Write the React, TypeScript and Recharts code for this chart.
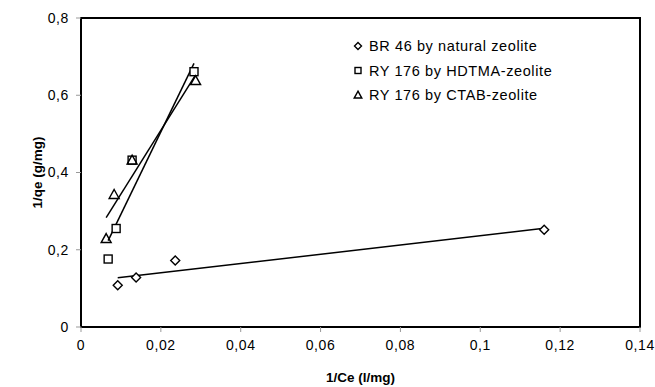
import {
  ScatterChart,
  Scatter,
  XAxis,
  YAxis,
  ReferenceArea,
} from "recharts";

// 1/Ce (l/mg) vs 1/qe (g/mg)
const brNaturalX = [0.0092, 0.0138, 0.0236, 0.116];
const brNaturalY = [0.108, 0.128, 0.172, 0.252];
const ryHdtmaX = [0.0068, 0.0088, 0.0128, 0.0283];
const ryHdtmaY = [0.176, 0.255, 0.432, 0.661];
const ryCtabX = [0.0063, 0.0083, 0.0128, 0.0287];
const ryCtabY = [0.229, 0.343, 0.432, 0.638];

const xTicks = [0, 0.02, 0.04, 0.06, 0.08, 0.1, 0.12, 0.14];
const yTicks = [0, 0.2, 0.4, 0.6, 0.8];

const FONT = "Liberation Sans, Arial, sans-serif";

type Pt = { x: number; y: number };

const toPoints = (xs: number[], ys: number[]): Pt[] =>
  xs.map((x, i) => ({ x, y: ys[i] }));

// least-squares trend line over the series' x range
function trend(pts: Pt[]): Pt[] {
  const n = pts.length;
  const mx = pts.reduce((s, p) => s + p.x, 0) / n;
  const my = pts.reduce((s, p) => s + p.y, 0) / n;
  let sxy = 0;
  let sxx = 0;
  pts.forEach((p) => {
    sxy += (p.x - mx) * (p.y - my);
    sxx += (p.x - mx) * (p.x - mx);
  });
  const b = sxy / sxx;
  const a = my - b * mx;
  const xs = pts.map((p) => p.x);
  const x0 = Math.min(...xs);
  const x1 = Math.max(...xs);
  return [
    { x: x0, y: a + b * x0 },
    { x: x1, y: a + b * x1 },
  ];
}

const brData = toPoints(brNaturalX, brNaturalY);
const hdtmaData = toPoints(ryHdtmaX, ryHdtmaY);
const ctabData = toPoints(ryCtabX, ryCtabY);

const comma = (v: number) => String(v).replace(".", ",");

// eslint-disable-next-line @typescript-eslint/no-explicit-any
const Diamond = (props: any) => {
  const { cx, cy, r = 4.5 } = props;
  return (
    <path
      d={`M${cx},${cy - r}L${cx + r},${cy}L${cx},${cy + r}L${cx - r},${cy}Z`}
      fill="#fff"
      stroke="#000"
      strokeWidth={1.4}
    />
  );
};

// eslint-disable-next-line @typescript-eslint/no-explicit-any
const Square = (props: any) => {
  const { cx, cy, r = 4 } = props;
  return (
    <rect
      x={cx - r}
      y={cy - r}
      width={2 * r}
      height={2 * r}
      fill="#fff"
      stroke="#000"
      strokeWidth={1.4}
    />
  );
};

// eslint-disable-next-line @typescript-eslint/no-explicit-any
const Triangle = (props: any) => {
  const { cx, cy, r = 5 } = props;
  return (
    <path
      d={`M${cx},${cy - r}L${cx + r},${cy + r * 0.8}L${cx - r},${cy + r * 0.8}Z`}
      fill="none"
      stroke="#000"
      strokeWidth={1.4}
    />
  );
};

const NoDot = () => <g />;

const legendRows = [
  { label: "BR 46 by natural zeolite", Shape: Diamond, r: 3.5 },
  { label: "RY 176 by HDTMA-zeolite", Shape: Square, r: 3 },
  { label: "RY 176 by CTAB-zeolite", Shape: Triangle, r: 3.8 },
];

const LegendBox = () => (
  <svg
    width={210}
    height={80}
    style={{ position: "absolute", left: 350, top: 32 }}
  >
    {legendRows.map((row, i) => (
      <g key={row.label}>
        <row.Shape cx={8} cy={14 + i * 24.5} r={row.r} />
        <text
          x={19}
          y={14 + i * 24.5}
          dy="0.36em"
          fontSize={14.5}
          letterSpacing={0.6}
          fontFamily={FONT}
          fill="#000"
        >
          {row.label}
        </text>
      </g>
    ))}
  </svg>
);

const tickStyle = {
  fontSize: 14,
  fontFamily: FONT,
  fill: "#000",
  letterSpacing: 0.6,
};

const titleStyle = {
  fontSize: 13.5,
  fontWeight: "bold",
  fontFamily: FONT,
  fill: "#000",
};

export default function App() {
  return (
    <div
      style={{
        position: "absolute",
        left: 0,
        top: 0,
        width: 655,
        height: 387,
        background: "#fff",
      }}
    >
      <ScatterChart
        width={655}
        height={387}
        margin={{ top: 18, right: 15, left: 21, bottom: 20 }}
      >
        <XAxis
          type="number"
          dataKey="x"
          domain={[0, 0.14]}
          ticks={xTicks}
          tickFormatter={comma}
          tick={tickStyle}
          tickSize={5}
          tickMargin={8}
          height={40}
          axisLine={{ stroke: "#000", strokeWidth: 2 }}
          tickLine={{ stroke: "#999" }}
          allowDataOverflow
          label={{
            value: "1/Ce (l/mg)",
            position: "insideBottom",
            offset: -15,
            style: titleStyle,
          }}
        />
        <YAxis
          type="number"
          dataKey="y"
          domain={[0, 0.8]}
          ticks={yTicks}
          tickFormatter={comma}
          tick={tickStyle}
          tickSize={5}
          tickMargin={7}
          width={60}
          axisLine={{ stroke: "#000", strokeWidth: 2 }}
          tickLine={{ stroke: "#999" }}
          label={{
            value: "1/qe (g/mg)",
            angle: -90,
            position: "insideLeft",
            offset: 16,
            style: { ...titleStyle, textAnchor: "middle" },
          }}
        />
        <ReferenceArea
          x1={0}
          x2={0.14}
          y1={0}
          y2={0.8}
          fill="none"
          stroke="#000"
          strokeWidth={2}
        />
        <Scatter
          data={trend(brData)}
          line={{ stroke: "#000", strokeWidth: 1.5 }}
          shape={NoDot}
          legendType="none"
          isAnimationActive={false}
        />
        <Scatter
          data={trend(hdtmaData)}
          line={{ stroke: "#000", strokeWidth: 1.5 }}
          shape={NoDot}
          legendType="none"
          isAnimationActive={false}
        />
        <Scatter
          data={trend(ctabData)}
          line={{ stroke: "#000", strokeWidth: 1.5 }}
          shape={NoDot}
          legendType="none"
          isAnimationActive={false}
        />
        <Scatter
          name="BR 46 by natural zeolite"
          data={brData}
          shape={Diamond}
          isAnimationActive={false}
        />
        <Scatter
          name="RY 176 by HDTMA-zeolite"
          data={hdtmaData}
          shape={Square}
          isAnimationActive={false}
        />
        <Scatter
          name="RY 176 by CTAB-zeolite"
          data={ctabData}
          shape={Triangle}
          isAnimationActive={false}
        />
      </ScatterChart>
      <LegendBox />
    </div>
  );
}
